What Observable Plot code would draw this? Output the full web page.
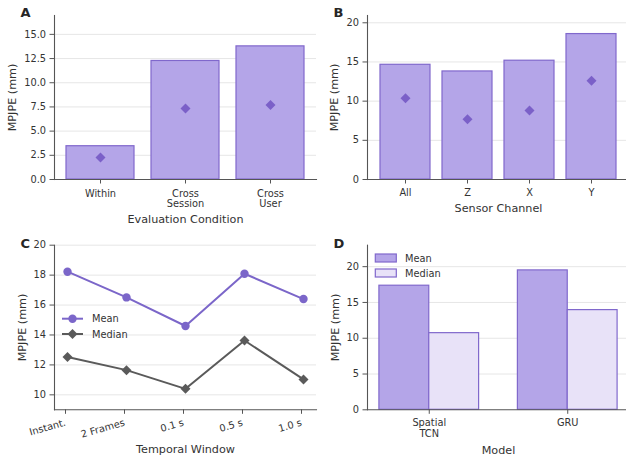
<!DOCTYPE html>
<html><head><meta charset="utf-8">
<script src="https://cdn.jsdelivr.net/npm/d3@7"></script>
<script src="https://cdn.jsdelivr.net/npm/@observablehq/plot@0.6"></script>
<style>
html,body{margin:0;padding:0;background:#fff;overflow:hidden;}
#root{position:relative;width:626px;height:458px;font-family:"DejaVu Sans",sans-serif;overflow:hidden;}
.panel{position:absolute;}
.letter{position:absolute;font-weight:bold;font-size:13px;color:#262626;line-height:1;}
.legend{position:absolute;left:0;top:0;overflow:visible;}
</style></head><body><div id="root"></div>
<script>
// ---- data ----
const condA = ["Within", "Cross\nSession", "Cross\nUser"];
const meanA = [3.44, 12.25, 13.76];
const medianA = [2.27, 7.33, 7.71];
const ticksA = [0, 2.5, 5, 7.5, 10, 12.5, 15];

const chanB = ["All", "Z", "X", "Y"];
const meanB = [14.64, 13.79, 15.16, 18.56];
const medianB = [10.38, 7.70, 8.81, 12.60];
const ticksB = [0, 5, 10, 15, 20];

const windowC = ["Instant.", "2 Frames", "0.1 s", "0.5 s", "1.0 s"];
const meanC = [18.23, 16.51, 14.60, 18.09, 16.40];
const medianC = [12.53, 11.65, 10.40, 13.63, 11.03];
const ticksC = [10, 12, 14, 16, 18, 20];

const modelD = ["Spatial\nTCN", "GRU"];
const meanD = [17.34, 19.48];
const medianD = [10.71, 13.93];
const ticksD = [0, 5, 10, 15, 20];

const seriesNames = ["Mean", "Median"];

// ---- style ----
const FONT = "DejaVu Sans";
const BAR = "#b4a5e8", EDGE = "#8068cc", DIAM = "#7b60c8", MEDFILL = "#e8e2f8";
const LINEP = "#7b66c9", LINEG = "#5a5a5a", GRID = "#e6e6e6", SPINE = "#555555", TEXT = "#333333";
const TICK = 9.8, LABEL = 11.2;

const root = document.getElementById("root");
function place(node, left, top) {
  node.classList.add("panel");
  node.style.left = left + "px";
  node.style.top = top + "px";
  root.appendChild(node);
}
const style = {fontFamily: FONT, fontSize: TICK + "px", color: TEXT, background: "transparent", overflow: "visible"};
const spines = () => [Plot.frame({anchor: "left", stroke: SPINE, strokeWidth: 1.1}), Plot.frame({anchor: "bottom", stroke: SPINE, strokeWidth: 1.1})];
const yAxis = (ticks, fmt) => Plot.axisY({ticks, tickFormat: fmt, tickSize: 4.5, tickPadding: 4, color: TEXT, stroke: SPINE, label: null});
const yLabel = (dx) => Plot.text(["MPJPE (mm)"], {frameAnchor: "left", rotate: -90, dx, textAnchor: "middle", lineAnchor: "middle", fontSize: LABEL, fill: TEXT});
const xLabel = (t, dy) => Plot.text([t], {frameAnchor: "bottom", dy, textAnchor: "middle", lineAnchor: "middle", fontSize: LABEL, fill: TEXT});

// ---- Panel A ----
const dataA = condA.map((c, i) => ({cond: c, mean: meanA[i], median: medianA[i]}));
place(Plot.plot({
  width: 317, height: 229, marginLeft: 54, marginRight: 1, marginTop: 15, marginBottom: 50,
  style,
  x: {domain: condA, paddingInner: 0.2, paddingOuter: 0.14},
  y: {domain: [0, 16.95]},
  marks: [
    Plot.gridY(ticksA.slice(1), {stroke: GRID, strokeOpacity: 1}),
    Plot.barY(dataA, {x: "cond", y: "mean", fill: BAR, stroke: EDGE, strokeWidth: 1.2}),
    Plot.dot(dataA, {x: "cond", y: "median", symbol: "diamond2", r: 4.5, fill: DIAM, stroke: "none"}),
    yAxis(ticksA, d => d.toFixed(1)),
    Plot.axisX({tickSize: 4.5, tickPadding: 5, color: TEXT, stroke: SPINE, label: null, lineHeight: 1.1}),
    ...spines(),
    yLabel(-42),
    xLabel("Evaluation Condition", 40)
  ]
}), 0, 0);

// ---- Panel B ----
const dataB = chanB.map((c, i) => ({ch: c, mean: meanB[i], median: medianB[i]}));
place(Plot.plot({
  width: 316, height: 229, marginLeft: 54, marginRight: 0, marginTop: 15, marginBottom: 50,
  style,
  x: {domain: chanB, paddingInner: 0.2, paddingOuter: 0.19},
  y: {domain: [0, 20.93]},
  marks: [
    Plot.gridY(ticksB.slice(1), {stroke: GRID, strokeOpacity: 1}),
    Plot.barY(dataB, {x: "ch", y: "mean", fill: BAR, stroke: EDGE, strokeWidth: 1.2}),
    Plot.dot(dataB, {x: "ch", y: "median", symbol: "diamond2", r: 4.5, fill: DIAM, stroke: "none"}),
    yAxis(ticksB, d => String(d)),
    Plot.axisX({tickSize: 4.5, tickPadding: 5, color: TEXT, stroke: SPINE, label: null}),
    ...spines(),
    yLabel(-33.3),
    xLabel("Sensor Channel", 28.5)
  ]
}), 313, 0);

// ---- Panel C ----
const dataC = windowC.map((w, i) => ({w, mean: meanC[i], median: medianC[i]}));
place(Plot.plot({
  width: 317, height: 229, marginLeft: 54, marginRight: 1, marginTop: 15.7, marginBottom: 48.7,
  style,
  x: {type: "point", domain: windowC, padding: 0.2},
  y: {domain: [9, 20]},
  marks: [
    Plot.gridY(ticksC, {stroke: GRID, strokeOpacity: 1}),
    Plot.line(dataC, {x: "w", y: "mean", stroke: LINEP, strokeWidth: 2}),
    Plot.dot(dataC, {x: "w", y: "mean", symbol: "circle", r: 4.2, fill: LINEP, stroke: "none"}),
    Plot.line(dataC, {x: "w", y: "median", stroke: LINEG, strokeWidth: 2}),
    Plot.dot(dataC, {x: "w", y: "median", symbol: "diamond2", r: 4.5, fill: LINEG, stroke: "none"}),
    yAxis(ticksC, d => String(d)),
    Plot.axisX({tickSize: 4.5, tickPadding: 8, tickRotate: -16, color: TEXT, stroke: SPINE, label: null, dx: -2}),
    ...spines(),
    yLabel(-32),
    xLabel("Temporal Window", 39.7)
  ]
}), 0, 229);

// ---- Panel D ----
const BW = 0.36;
const dataD = [];
modelD.forEach((m, i) => {
  dataD.push({i, s: "Mean", v: meanD[i]});
  dataD.push({i, s: "Median", v: medianD[i]});
});
place(Plot.plot({
  width: 316, height: 229, marginLeft: 54, marginRight: 0, marginTop: 15.7, marginBottom: 48.7,
  style,
  x: {type: "linear", domain: [-(BW + 0.086), 1 + BW + 0.086]},
  y: {domain: [0, 23]},
  marks: [
    Plot.gridY(ticksD.slice(1), {stroke: GRID, strokeOpacity: 1}),
    Plot.rectY(dataD, {
      x1: d => d.i + (d.s === "Mean" ? -BW : 0),
      x2: d => d.i + (d.s === "Mean" ? 0 : BW),
      y1: 0, y2: "v",
      fill: d => d.s === "Mean" ? BAR : MEDFILL, stroke: EDGE, strokeWidth: 1.2
    }),
    yAxis(ticksD, d => String(d)),
    Plot.axisX({ticks: modelD.map((m, i) => i), tickFormat: i => modelD[i], tickSize: 4.5, tickPadding: 4, color: TEXT, stroke: SPINE, label: null, lineHeight: 1.1}),
    ...spines(),
    yLabel(-32.3),
    xLabel("Model", 40.2)
  ]
}), 313, 229);

// ---- legends & panel letters ----
const NS = "http://www.w3.org/2000/svg";
const leg = document.createElementNS(NS, "svg");
leg.setAttribute("width", 626); leg.setAttribute("height", 458);
leg.setAttribute("class", "legend");
leg.style.position = "absolute";
root.appendChild(leg);
function el(tag, attrs, text) {
  const e = document.createElementNS(NS, tag);
  for (const k in attrs) e.setAttribute(k, attrs[k]);
  if (text) e.textContent = text;
  leg.appendChild(e);
  return e;
}
// Legend C
const legC = [{c: LINEP, y: 318.7, sym: "circle"}, {c: LINEG, y: 334, sym: "diamond"}];
legC.forEach((L, k) => {
  el("line", {x1: 62, x2: 83, y1: L.y, y2: L.y, stroke: L.c, "stroke-width": 2});
  if (L.sym === "circle") el("circle", {cx: 72.5, cy: L.y, r: 4.2, fill: L.c});
  else el("path", {d: `M72.5,${L.y - 5}L77.5,${L.y}L72.5,${L.y + 5}L67.5,${L.y}Z`, fill: L.c});
  el("text", {x: 92, y: L.y + 3.5, "font-family": FONT, "font-size": TICK, fill: TEXT}, seriesNames[k]);
});
// Legend D
const legD = [{f: BAR, y: 254}, {f: MEDFILL, y: 269}];
legD.forEach((L, k) => {
  el("rect", {x: 375.3, y: L.y, width: 21, height: 8, fill: L.f, stroke: EDGE, "stroke-width": 1.2});
  el("text", {x: 405, y: L.y + 7.8, "font-family": FONT, "font-size": TICK, fill: TEXT}, seriesNames[k]);
});
// Panel letters
[["A", 20.5, 7], ["B", 333.5, 7], ["C", 20.5, 238.5], ["D", 333.5, 238]].forEach(([t, x, y]) => {
  const d = document.createElement("div");
  d.className = "letter"; d.textContent = t;
  d.style.left = x + "px"; d.style.top = (y - 1.5) + "px";
  root.appendChild(d);
});
</script></body></html>
